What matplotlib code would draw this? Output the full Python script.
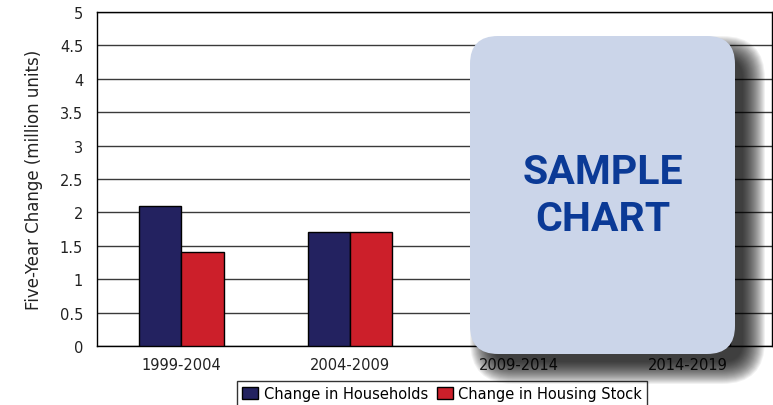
import numpy as np
import matplotlib
matplotlib.use("Agg")
import matplotlib.pyplot as plt
from matplotlib.patches import FancyBboxPatch, Patch
from matplotlib.transforms import IdentityTransform

# data (last two groups are hidden behind the box, guessed)
periods = ["1999-2004", "2004-2009", "2009-2014", "2014-2019"]
households = [2.1, 1.7, 1.5, 1.4]
housing_stock = [1.4, 1.7, 1.5, 1.4]
yticks = [0, 0.5, 1, 1.5, 2, 2.5, 3, 3.5, 4, 4.5, 5]
ytick_labels = ["0", "0.5", "1", "1.5", "2", "2.5", "3", "3.5", "4", "4.5", "5"]

navy = "#232260"
red = "#cc1f2a"

plt.rcParams['font.family'] = ['DejaVu Sans']

fig = plt.figure(figsize=(7.73, 4.06), dpi=100)
ax = fig.add_axes([97/773, 1 - 347/406, (772 - 97)/773, (347 - 13)/406])

x = np.arange(len(periods))
w = 0.25
ax.bar(x - w/2, households, w, color=navy, edgecolor="black", linewidth=1, zorder=3)
ax.bar(x + w/2, housing_stock, w, color=red, edgecolor="black", linewidth=1, zorder=3)

ax.set_xlim(-0.5, len(periods) - 0.5)
ax.set_ylim(0, 5)
ax.set_yticks(yticks)
ax.set_yticklabels(ytick_labels)
ax.set_xticks(x)
ax.set_xticklabels(periods)
ax.tick_params(axis="both", length=0, labelsize=10.5, colors="#222222")
ax.tick_params(axis="y", pad=10)
ax.tick_params(axis="x", pad=8)
ax.yaxis.grid(True, color="#3a3a3a", linewidth=1)
ax.set_axisbelow(True)
for s in ax.spines.values():
    s.set_color("black")
    s.set_linewidth(1)

ax.set_ylabel("Five-Year Change (million units)", fontsize=12, labelpad=12, color="#222222")

# legend at the bottom (cut by figure edge like the original)
handles = [Patch(facecolor=navy, edgecolor="black", label="Change in Households"),
           Patch(facecolor=red, edgecolor="black", label="Change in Housing Stock")]
leg = fig.legend(handles=handles, loc="upper center", bbox_to_anchor=(442/773, 1 - 382/406),
                 ncol=2, frameon=True, fancybox=False, fontsize=10.5, handlelength=1.1,
                 handleheight=0.8, handletextpad=0.4, columnspacing=0.6, borderpad=0.35,
                 borderaxespad=0)
leg.get_frame().set_edgecolor("black")
leg.get_frame().set_linewidth(1)

# "SAMPLE CHART" box with a soft shadow, in pixel coords
bx, by, bw, bh = 470, 406 - 355, 265, 318
rad = 28
off = 15
for grow in range(30, -16, -2):
    shadow = FancyBboxPatch((bx + off - grow/2, by - off - grow/2), bw + grow, bh + grow,
                            boxstyle="round,pad=0,rounding_size=%g" % max(rad + grow/2, 4),
                            transform=IdentityTransform(), facecolor="black",
                            edgecolor="none", alpha=0.055, zorder=8)
    fig.patches.append(shadow)
box = FancyBboxPatch((bx, by), bw, bh, boxstyle="round,pad=0,rounding_size=%d" % rad,
                     transform=IdentityTransform(), facecolor="#cbd5e9",
                     edgecolor="none", zorder=9)
fig.patches.append(box)
fig.text((bx + bw/2)/773, (406 - 197)/406, "SAMPLE\nCHART", ha="center", va="center",
         fontsize=29.5, fontweight="bold", color="#0b3a96", family="Roboto",
         linespacing=1.3, zorder=10)

fig.savefig("out.png", dpi=100)
